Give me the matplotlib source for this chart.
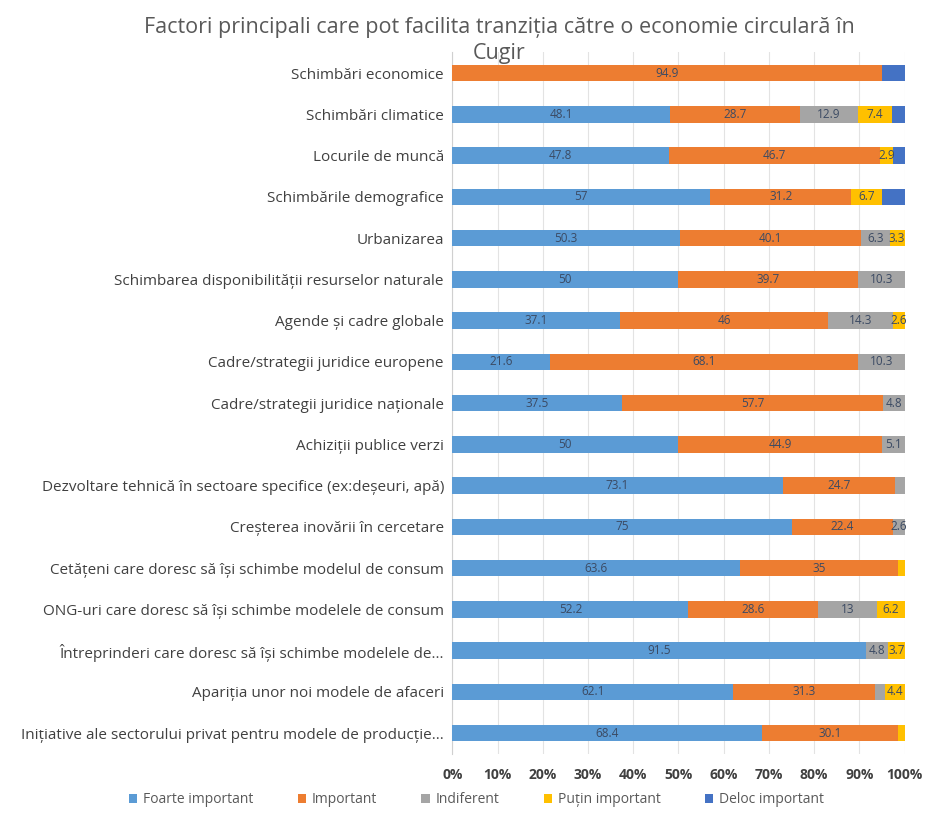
import numpy as np
import matplotlib
matplotlib.use("Agg")
import matplotlib.pyplot as plt

plt.rcParams['font.family'] = ['Open Sans', 'DejaVu Sans']

TITLE = ("Factori principali care pot facilita tranziția către o economie circulară în\n"
         "Cugir")

categories = [
    "Schimbări economice",
    "Schimbări climatice",
    "Locurile de muncă",
    "Schimbările demografice",
    "Urbanizarea",
    "Schimbarea disponibilității resurselor naturale",
    "Agende și cadre globale",
    "Cadre/strategii juridice europene",
    "Cadre/strategii juridice naționale",
    "Achiziții publice verzi",
    "Dezvoltare tehnică în sectoare specifice (ex:deșeuri, apă)",
    "Creșterea inovării în cercetare",
    "Cetățeni care doresc să își schimbe modelul de consum",
    "ONG-uri care doresc să își schimbe modelele de consum",
    "Întreprinderi care doresc să își schimbe modelele de...",
    "Apariția unor noi modele de afaceri",
    "Inițiative ale sectorului privat pentru modele de producție...",
]

series_names = ["Foarte important", "Important", "Indiferent",
                "Puțin important", "Deloc important"]
series_colors = ["#5B9BD5", "#ED7D31", "#A5A5A5", "#FFC000", "#4472C4"]

# values (percent of respondents)
foarte_important = [0, 48.1, 47.8, 57.0, 50.3, 50.0, 37.1, 21.6, 37.5, 50.0,
                    73.1, 75.0, 63.6, 52.2, 91.5, 62.1, 68.4]
important = [94.9, 28.7, 46.7, 31.2, 40.1, 39.7, 46.0, 68.1, 57.7, 44.9,
             24.7, 22.4, 35.0, 28.6, 0, 31.3, 30.1]
indiferent = [0, 12.9, 0, 0, 6.3, 10.3, 14.3, 10.3, 4.8, 5.1,
              2.2, 2.6, 0, 13.0, 4.8, 2.2, 0]
putin_important = [0, 7.4, 2.9, 6.7, 3.3, 0, 2.6, 0, 0, 0,
                   0, 0, 1.4, 6.2, 3.7, 4.4, 1.5]
deloc_important = [5.1, 2.9, 2.6, 5.1, 0, 0, 0, 0, 0, 0,
                   0, 0, 0, 0, 0, 0, 0]

x_ticks = np.arange(0, 101, 10)
x_tick_labels = [f"{t}%" for t in x_ticks]

series = [foarte_important, important, indiferent, putin_important, deloc_important]

fig = plt.figure(figsize=(9.25, 8.15), dpi=100)
ax = fig.add_axes([0.489, 0.0753, 0.489, 0.8604])

y = np.arange(len(categories))
data = np.array(series, dtype=float)
totals = data.sum(axis=0)
left = np.zeros(len(categories))

for vals, name, color in zip(data, series_names, series_colors):
    share = vals / totals * 100
    ax.barh(y, share, left=left, height=0.4, color=color, label=name, zorder=3)
    # dark labels on the dark-blue series don't show in the original
    if name != "Deloc important":
        for yi, (v, s, l) in enumerate(zip(vals, share, left)):
            if v >= 2.5:
                ax.text(l + s / 2, yi, f"{v:g}", ha="center", va="center",
                        fontsize=8.5, color="#3b4a63", zorder=4)
    left += share

ax.set_xlim(0, 100)
ax.set_ylim(len(categories) - 0.5, -0.5)
ax.set_yticks(y)
ax.set_yticklabels(categories, fontsize=11, color="#404040")
ax.set_xticks(x_ticks)
ax.set_xticklabels(x_tick_labels, fontsize=10, fontweight="bold", color="#404040")
ax.tick_params(axis="x", length=0, pad=10)
ax.tick_params(axis="y", length=0, pad=6)
ax.xaxis.grid(True, color="#e3e3e3", linewidth=0.8, zorder=0)
ax.set_axisbelow(True)
for side in ["top", "right", "bottom"]:
    ax.spines[side].set_visible(False)
ax.spines["left"].set_color("#d0d0d0")

fig.text(0.54, 0.979, TITLE, ha="center", va="top", fontsize=15.5,
         color="#595959", linespacing=1.3)

fig.legend(loc="lower center", bbox_to_anchor=(0.515, -0.006), ncol=5,
           frameon=False, fontsize=10, handlelength=0.6, handleheight=0.6,
           columnspacing=3.2, handletextpad=0.4, labelcolor="#595959")

fig.savefig("out.png", dpi=100, facecolor="white")
